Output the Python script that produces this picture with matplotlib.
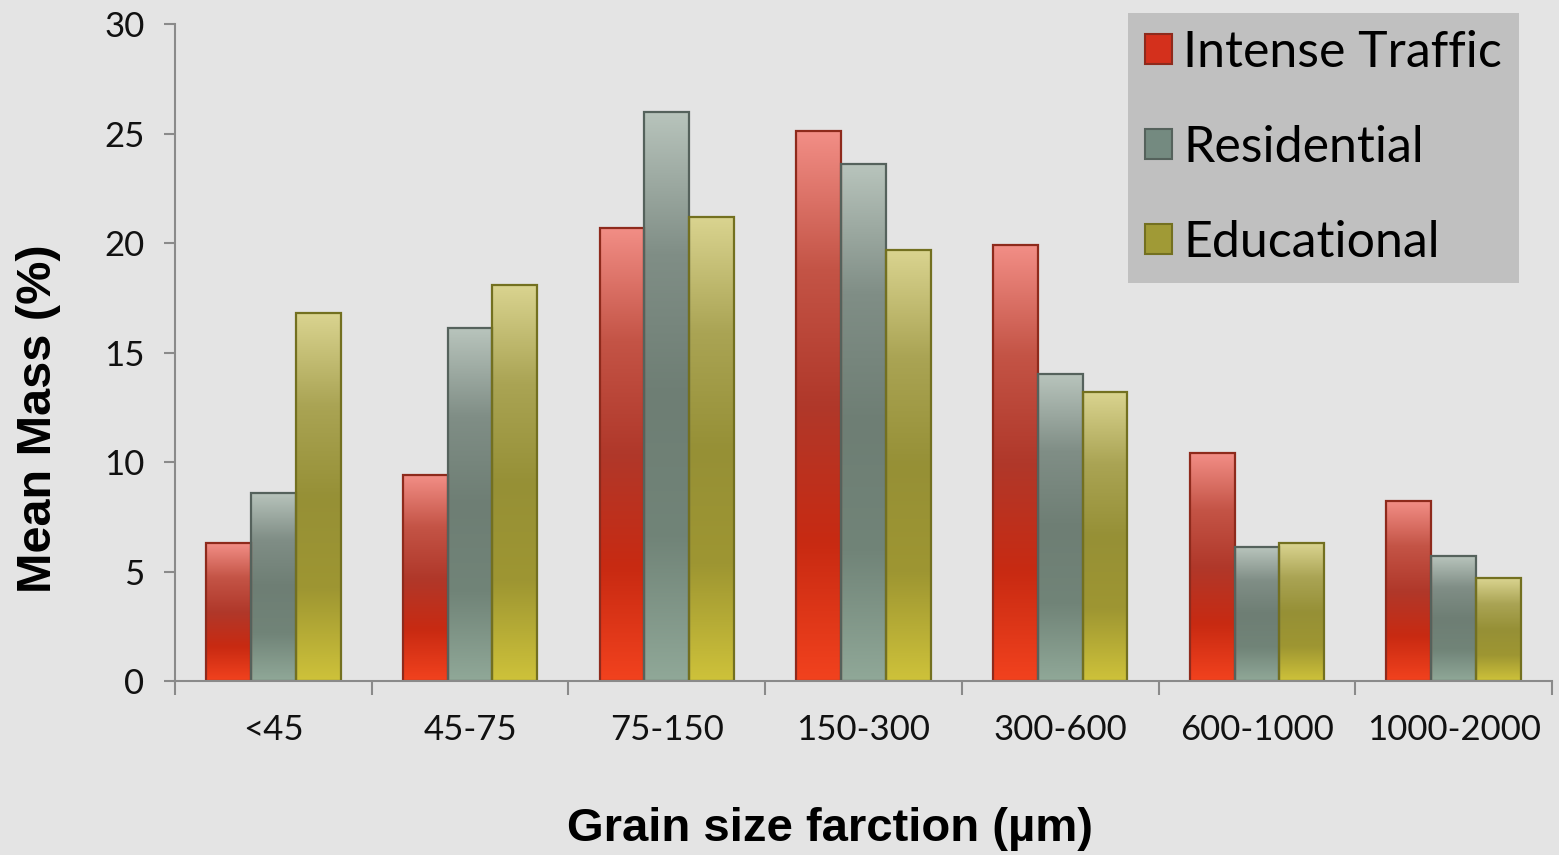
import matplotlib
matplotlib.use("Agg")
import matplotlib.pyplot as plt
import numpy as np
from matplotlib.colors import LinearSegmentedColormap
from matplotlib.patches import Patch

categories = ["<45", "45-75", "75-150", "150-300", "300-600", "600-1000", "1000-2000"]
intense_traffic = [6.3, 9.4, 20.7, 25.1, 19.9, 10.4, 8.2]
residential = [8.6, 16.1, 26.0, 23.6, 14.0, 6.1, 5.7]
educational = [16.8, 18.1, 21.2, 19.7, 13.2, 6.3, 4.7]
series_names = ["Intense Traffic", "Residential", "Educational"]
yticks = [0, 5, 10, 15, 20, 25, 30]

# gradient stops bottom -> top
grad_stops = {
    "Intense Traffic": ["#F2421E", "#C82A12", "#B0382A", "#C45446", "#F28E86"],
    "Residential": ["#90A898", "#718478", "#6E7E74", "#808E86", "#B8C4BC"],
    "Educational": ["#CEC23A", "#9E9632", "#969036", "#AAA454", "#DAD490"],
}
edge_colors = {"Intense Traffic": "#8E2A1C", "Residential": "#55625C", "Educational": "#737020"}
legend_face = {"Intense Traffic": "#D4301C", "Residential": "#748A80", "Educational": "#A09A36"}

bg = "#E4E4E4"
fig = plt.figure(figsize=(15.59, 8.55), dpi=100, facecolor=bg)
ax = fig.add_axes([175 / 1559, 1 - 681 / 855, (1552 - 175) / 1559, (681 - 24) / 855])
ax.set_facecolor(bg)

x = np.arange(len(categories))
w = 0.228
data = [intense_traffic, residential, educational]
grad = np.linspace(0, 1, 256).reshape(-1, 1)
for i, (name, vals) in enumerate(zip(series_names, data)):
    cmap = LinearSegmentedColormap.from_list(name, grad_stops[name])
    bars = ax.bar(x + (i - 1) * w, vals, width=w, facecolor="none",
                  edgecolor=edge_colors[name], linewidth=1.6, zorder=3)
    for b in bars:
        x0, y0 = b.get_x(), b.get_y()
        im = ax.imshow(grad, cmap=cmap, origin="lower", aspect="auto",
                       extent=(x0, x0 + b.get_width(), y0, y0 + b.get_height()),
                       zorder=2, interpolation="bilinear")
        im.set_clip_path(b)

ax.set_xlim(-0.5, len(categories) - 0.5)
ax.set_ylim(0, 30)

tick_font = "Lato"
ax.set_yticks(yticks)
ax.set_yticklabels([str(t) for t in yticks], fontsize=25, family=tick_font)
ax.set_xticks(x)
ax.set_xticklabels(categories, fontsize=25, family=tick_font)
ax.set_xticks(np.arange(-0.5, len(categories), 1), minor=True)
ax.tick_params(axis="x", which="major", length=0, pad=24, colors="#111111")
ax.tick_params(axis="x", which="minor", length=10, width=1.5, color="#8A8A8A")
ax.tick_params(axis="y", which="major", length=8, width=1.5, pad=14, colors="#111111")
ax.tick_params(axis="y", which="major", color="#8A8A8A")
for s in ["top", "right"]:
    ax.spines[s].set_visible(False)
for s in ["left", "bottom"]:
    ax.spines[s].set_color("#8A8A8A")
    ax.spines[s].set_linewidth(1.5)
ax.spines["bottom"].set_zorder(4)

ax.set_ylabel("Mean Mass (%)", fontsize=35, fontweight="bold", family="Liberation Sans")
ax.set_xlabel("Grain size farction (µm)", fontsize=34, fontweight="bold", family="Liberation Sans")
ax.yaxis.set_label_coords(-0.083, 0.40)
ax.xaxis.set_label_coords(0.476, -0.192)

handles = [Patch(facecolor=legend_face[n], edgecolor=edge_colors[n], linewidth=1.5) for n in series_names]
leg = fig.legend(handles, series_names, loc="upper right", bbox_to_anchor=(1519 / 1559, 1 - 13 / 855),
                 frameon=True, fancybox=False, facecolor="#C0C0C0", edgecolor="none",
                 framealpha=1, handlelength=0.55, handleheight=0.55, handletextpad=0.22,
                 labelspacing=0.98, borderpad=0.34, borderaxespad=0,
                 prop={"family": tick_font, "size": 36})

fig.savefig("out.png", dpi=100, facecolor=bg)
